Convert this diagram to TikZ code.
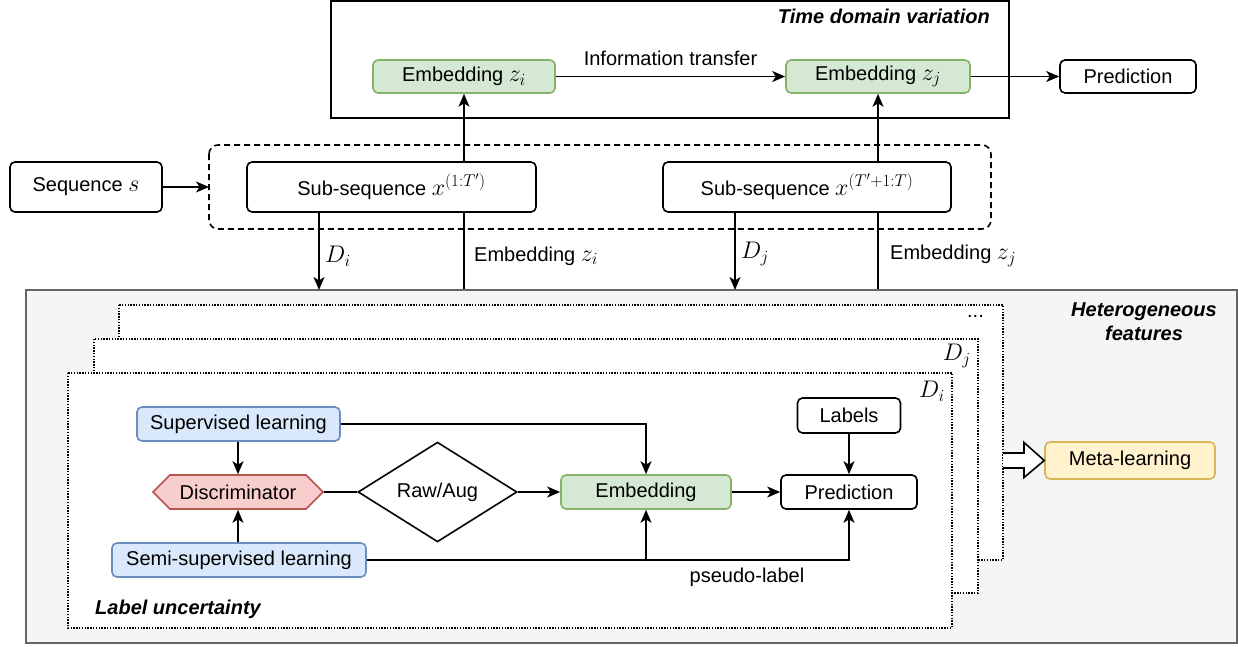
\documentclass[tikz,border=0pt]{standalone}
\usepackage{fix-cm}
\usepackage[no-math]{fontspec}
\setmainfont{Liberation Sans}
\usetikzlibrary{arrows.meta,shapes.geometric,shapes.symbols,calc}

\definecolor{greenF}{HTML}{D5E8D4}
\definecolor{greenD}{HTML}{82B366}
\definecolor{blueF}{HTML}{DAE8FC}
\definecolor{blueD}{HTML}{6C8EBF}
\definecolor{redF}{HTML}{F8CECC}
\definecolor{redD}{HTML}{B85450}
\definecolor{yellowF}{HTML}{FFF2CC}
\definecolor{yellowD}{HTML}{D6B656}
\definecolor{grayF}{HTML}{F5F5F5}
\definecolor{grayD}{HTML}{666666}

\DeclareMathSizes{20}{24}{17}{12}

\begin{document}
\begin{tikzpicture}[x=1pt,y=-1pt,
  font=\fontsize{20}{24}\selectfont,
  lw/.style={line width=1.6pt},
  box/.style={draw, lw, rounded corners=5pt, fill=white, inner sep=0pt, align=center},
  greenbox/.style={box, draw=greenD, fill=greenF},
  bluebox/.style={box, draw=blueD, fill=blueF},
  yellowbox/.style={box, draw=yellowD, fill=yellowF},
  hexbox/.style={draw=redD, fill=redF, lw, shape=signal, signal to=west and east,
    signal pointer angle=90, inner sep=0pt},
  decision/.style={draw, lw, fill=white, shape=diamond, inner sep=0pt},
  frame/.style={draw, lw, fill=white},
  stackframe/.style={draw, line width=1.2pt, dash pattern=on 1.4pt off 1.4pt, fill=white},
  groupframe/.style={draw, lw, dash pattern=on 6pt off 4pt, rounded corners=9pt},
  conn/.style={lw, -{Stealth[length=13pt,width=11pt,inset=3.5pt]}},
  plain/.style={lw},
  title/.style={font=\fontsize{20}{24}\selectfont\bfseries\itshape, inner sep=0pt},
  lbl/.style={inner sep=0pt},
]
\useasboundingbox (0,0) rectangle (1238,646);

% ---- Heterogeneous features panel ----
\node[draw=grayD, fill=grayF, lw, minimum width=1211, minimum height=353, inner sep=0pt]
  (hetero) at (631.5,466.5) {};
\node[title, align=center] (htitle) at (1144,322) {Heterogeneous\\features};

% stacked per-domain frames
\draw[stackframe] (119,305) rectangle (1003,560);
\draw[stackframe] (94,339) rectangle (978,593);
\draw[stackframe] (68,373) rectangle (952,628);
\node[lbl, anchor=east] (dots) at (984,316) {...};
\node[lbl, anchor=east] (dj) at (971,356) {$D_j$};
\node[lbl, anchor=east] (di) at (945,391) {$D_i$};
\node[title, anchor=west] (ltitle) at (95,609) {Label uncertainty};

% ---- time domain panel ----
\draw[frame] (331,1) rectangle (1009,118);
\node[title, anchor=east] (ttitle) at (990,16) {Time domain variation};

\node[greenbox, minimum width=182, minimum height=33] (ezi) at (464,76.5) {Embedding $z_i$};
\node[greenbox, minimum width=184, minimum height=33] (ezj) at (878,76.5) {Embedding $z_j$};
\node[box, minimum width=136, minimum height=33] (ptop) at (1128,76.5) {Prediction};

\draw[conn] (ezi.east) -- node[lbl, above=10pt] {Information transfer} (ezj.west);
\draw[conn] (ezj.east) -- (ptop.west);

% ---- sequence split ----
\node[box, minimum width=152, minimum height=50] (seq) at (86,187) {Sequence $s$};
\draw[groupframe] (209,145) rectangle (991,229);
\coordinate (grpW) at (209,187);
\node[box, minimum width=289, minimum height=50] (sub1) at (391.5,187) {Sub-sequence $x^{(1:T')}$};
\node[box, minimum width=288, minimum height=50] (sub2) at (807,187) {Sub-sequence $x^{(T'+1:T)}$};

\draw[conn] (seq.east) -- (grpW);

% embeddings passed upward
\draw[plain] (ezi.south |- hetero.north) -- (ezi.south |- sub1.south);
\draw[conn] (ezi.south |- sub1.north) -- (ezi.south);
\draw[plain] (ezj.south |- hetero.north) -- (ezj.south |- sub2.south);
\draw[conn] (ezj.south |- sub2.north) -- (ezj.south);
\node[lbl, anchor=west] (lzi) at (474,256) {Embedding $z_i$};
\node[lbl, anchor=west] (lzj) at (890,256) {Embedding $z_j$};

% domains passed downward
\coordinate (dIn) at (319,290);
\coordinate (dJn) at (735,290);
\draw[conn] (sub1.south -| dIn) -- (dIn);
\draw[conn] (sub2.south -| dJn) -- (dJn);
\node[lbl, anchor=west] (ldi) at (325,256) {$D_i$};
\node[lbl, anchor=west] (ldj) at (741,254) {$D_j$};

% ---- label uncertainty block ----
\node[bluebox, minimum width=203, minimum height=34] (sup) at (238.5,424) {Supervised learning};
\node[hexbox, minimum width=170, minimum height=34] (disc) at (238,492) {Discriminator};
\node[bluebox, minimum width=254, minimum height=34] (semi) at (239,560) {Semi-supervised learning};
\node[decision, minimum width=159, minimum height=50] (raw) at (437.5,492) {Raw/Aug};
\node[greenbox, minimum width=170, minimum height=34] (emb) at (646,492) {Embedding};
\node[box, minimum width=136, minimum height=34] (pred) at (849,492) {Prediction};
\node[box, minimum width=103, minimum height=35] (labels) at (849,415.5) {Labels};

\draw[conn] (sup.south -| disc.north) -- (disc.north);
\draw[conn] (semi.north -| disc.south) -- (disc.south);
\draw[plain] (disc.east) -- (raw.west);
\draw[conn] (raw.east) -- (emb.west);
\draw[conn] (emb.east) -- (pred.west);
\draw[conn] (labels.south) -- (pred.north);
\draw[conn] (sup.east) -| (emb.north);
\draw[conn] (semi.east) -| (pred.south);
\draw[conn] (emb.south |- semi.east) -- (emb.south);
\node[lbl] (pl) at (747,577) {pseudo-label};

% ---- meta-learning ----
\node[yellowbox, minimum width=170, minimum height=37] (meta) at (1130,460.5) {Meta-learning};
\coordinate (fa0) at (1003,460.5);
\draw[lw, fill=white, line join=miter]
  ($(fa0)+(0,-7.5)$) -- ($(fa0)+(21,-7.5)$) -- ($(fa0)+(21,-18)$) -- (meta.west)
  -- ($(fa0)+(21,17)$) -- ($(fa0)+(21,7.5)$) -- ($(fa0)+(0,7.5)$);
\end{tikzpicture}
\end{document}
